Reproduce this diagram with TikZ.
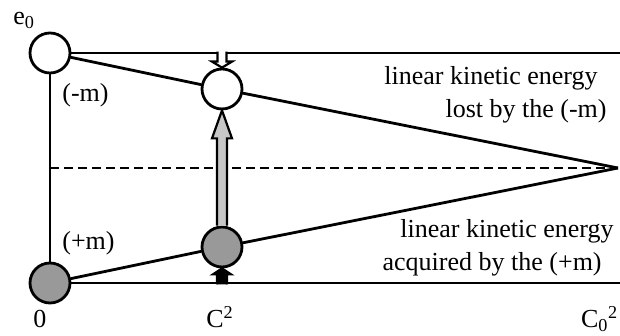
\documentclass[tikz,border=0pt]{standalone}
\usepackage{fontspec}
\setmainfont{Liberation Serif}
\usetikzlibrary{calc}

\begin{document}
\begin{tikzpicture}[x=1pt, y=1pt,
    font=\fontsize{26}{30}\selectfont,
    line width=2.8pt,
    ball/.style={draw, circle, minimum size=40pt, inner sep=0pt, fill=white},
    grayball/.style={ball, fill=black!40},
    lbl/.style={inner sep=0pt},
    fat/.style={draw, line width=2.2pt, line join=miter}]
  \useasboundingbox (0,0) rectangle (620,336);
  \node[ball] (e0) at (50,283) {};
  \node[grayball] (o) at (50,53) {};
  \coordinate (c0) at (618,168);
  \coordinate (tr) at (620,283);
  \coordinate (br) at (620,53);
  \node[ball] (lost) at (222,247) {};
  \node[grayball] (gain) at (222,89) {};
  \draw (e0) -- (tr);
  \draw (o) -- (br);
  \draw (e0) -- (o);
  \draw[line width=2.2pt, dash pattern=on 9pt off 5pt] (e0 |- c0) -- (c0);
  \draw (e0) -- (lost) -- (c0);
  \draw (o) -- (gain) -- (c0);
  % block arrows
  \draw[fat, fill=black!22] ($(gain.north)+(-5,0)$) -- ($(lost.south)+(-5,-28)$) -- ++(-5,0)
    -- (lost.south) -- ($(lost.south)+(10,-28)$) -- ++(-5,0) -- ($(gain.north)+(5,0)$);
  \draw[fat, fill=white] ($(lost.north)+(-4.5,16)$) -- ($(lost.north)+(-4.5,6)$) -- ++(-5.5,0)
    -- (lost.north) -- ($(lost.north)+(10,6)$) -- ++(-5.5,0) -- ($(lost.north)+(4.5,16)$);
  \draw[fat, fill=black] ($(gain.south)+(-5,-16)$) -- ($(gain.south)+(-5,-6)$) -- ++(-4,0)
    -- (gain.south) -- ($(gain.south)+(9,-6)$) -- ++(-4,0) -- ($(gain.south)+(5,-16)$);
  % labels
  \node[lbl, anchor=base west] (le0) at (12,311) {e\textsubscript{0}};
  \node[lbl, anchor=base west] (lminus) at (61,234) {(-m)};
  \node[lbl, anchor=base west] (lplus) at (61,86) {(+m)};
  \node[lbl, anchor=base west] (lzero) at (32,8) {0};
  \node[lbl, anchor=base west] (lc) at (205,8) {C\textsuperscript{2}};
  \node[lbl, anchor=base east] (lc0) at (619,8) {C\textsubscript{0}\textsuperscript{2}};
  \node[lbl, anchor=base east] (lost1) at (599,251) {linear kinetic energy};
  \node[lbl, anchor=base east] (lost2) at (608,218) {lost by the (-m)};
  \node[lbl, anchor=base east] (gain1) at (615,98) {linear kinetic energy};
  \node[lbl, anchor=base east] (gain2) at (603,65) {acquired by the (+m)};
\end{tikzpicture}
\end{document}
